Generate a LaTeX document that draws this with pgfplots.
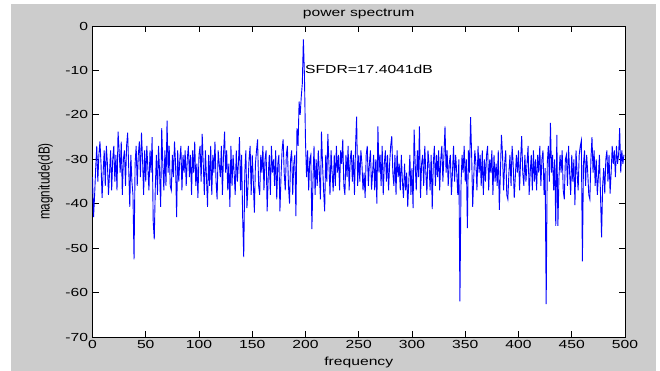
\documentclass[border=0pt]{standalone}
\usepackage{fontspec}
\setmainfont{Liberation Sans}[FakeStretch=1.34]
\newfontfamily\rotfont{Liberation Sans}[FakeStretch=0.746]
\usepackage{pgfplots}
\pgfplotsset{compat=1.18}
\definecolor{figgray}{RGB}{204,204,204}
\newcommand\tickfont{\fontsize{11.7bp}{14bp}\selectfont}
\newcommand\ylabfont{\rotfont\fontsize{15.7bp}{18bp}\selectfont}
\begin{document}
\begin{tikzpicture}
\fill[white] (-92.5bp,-34bp) rectangle (567.5bp,337bp);
\fill[figgray] (-81.5bp,-34bp) rectangle (563.5bp,333bp);
\begin{axis}[
  scale only axis, width=532.5bp, height=311bp,
  at={(0,0)}, anchor=south west,
  xmin=0, xmax=500, ymin=-70, ymax=0,
  xtick={0,50,...,500}, ytick={-70,-60,...,0},
  tick align=inside, major tick length=6bp,
  axis line style={black, line width=0.8bp},
  every tick/.style={black, line width=0.8bp},
  axis background/.style={fill=white},
  tick label style={font=\tickfont},
  yticklabel style={xshift=-1bp},
  /pgf/number format/assume math mode=true,
  title={power spectrum},
  title style={font=\tickfont, at={(axis description cs:0.5,1)}, anchor=base, yshift=3.5bp},
  xlabel={frequency},
  xlabel style={font=\tickfont, at={(axis description cs:0.5,0)}, anchor=base, yshift=-28bp},
  ylabel={magnitude(dB)},
  ylabel style={font=\ylabfont, at={(axis description cs:-0.0879,0.5)}, anchor=center},
]
\addplot[blue, line width=0.9bp] coordinates {
(0,-34) (1,-43) (2,-38) (3,-32) (4,-27) (5,-35) (6,-29) (7,-26) (8,-31) (9,-38.7)
(10,-33) (11,-28) (12,-36) (13,-27) (14,-31) (15,-38) (16,-33) (17,-28) (18,-37) (19,-30)
(20,-27) (21,-35) (22,-29) (23,-37) (24,-23.8) (25,-28) (26,-33) (27,-26) (28,-38) (29,-30)
(30,-28) (31,-36) (32,-27) (33,-24) (34,-32) (35,-40.7) (36,-29) (37,-35) (38,-38) (39,-52.5)
(40,-31) (41,-27) (42,-36) (43,-29) (44,-26) (45,-34) (46,-24) (47,-30) (48,-38) (49,-28)
(50,-35) (51,-27) (52,-32) (53,-37) (54,-28) (55,-33) (56,-25) (57,-44) (58,-48) (59,-36)
(60,-29) (61,-38) (62,-27) (63,-33) (64,-40.7) (65,-23) (66,-31) (67,-37) (68,-28) (69,-36)
(70,-21.3) (71,-33) (72,-27) (73,-36) (74,-37) (75,-29) (76,-34) (77,-26) (78,-31) (79,-43)
(80,-28) (81,-35) (82,-30) (83,-27) (84,-37) (85,-29) (86,-33) (87,-28) (88,-36) (89,-30)
(90,-27) (91,-34) (92,-29) (93,-38) (94,-28) (95,-33) (96,-26) (97,-36) (98,-31) (99,-38.7)
(100,-29) (101,-27) (102,-35) (103,-24.3) (104,-31) (105,-38) (106,-28) (107,-34) (108,-40.7) (109,-29)
(110,-36) (111,-27) (112,-38) (113,-29) (114,-33) (115,-26) (116,-35) (117,-39) (118,-28) (119,-31)
(120,-34) (121,-27) (122,-38) (123,-29) (124,-23.8) (125,-33) (126,-28) (127,-37) (128,-31) (129,-40.7)
(130,-27) (131,-36) (132,-29) (133,-33) (134,-38) (135,-28) (136,-35) (137,-31) (138,-25) (139,-37)
(140,-29) (141,-43) (142,-52) (143,-33) (144,-28) (145,-41) (146,-36) (147,-30) (148,-27) (149,-38)
(150,-29) (151,-35) (152,-42) (153,-31) (154,-28) (155,-25.5) (156,-36) (157,-38) (158,-29) (159,-33)
(160,-27) (161,-37) (162,-30) (163,-28) (164,-41.7) (165,-34) (166,-29) (167,-38) (168,-27) (169,-33)
(170,-30) (171,-36) (172,-28) (173,-39) (174,-31) (175,-29) (176,-41.7) (177,-34) (178,-28) (179,-25.5)
(180,-33) (181,-37) (182,-29) (183,-27) (184,-36) (185,-40) (186,-30) (187,-28) (188,-38) (189,-31)
(190,-29) (191,-42.8) (192,-23) (193,-27) (194,-17) (195,-20) (196,-16) (197,-13) (198,-3) (199,-11)
(200,-26) (201,-34) (202,-28) (203,-37) (204,-30) (205,-29) (206,-45.7) (207,-35) (208,-27) (209,-38)
(210,-30) (211,-36) (212,-28) (213,-33) (214,-39) (215,-23.8) (216,-31) (217,-37) (218,-41.7) (219,-29)
(220,-35) (221,-24.3) (222,-31) (223,-38) (224,-28) (225,-33) (226,-37.2) (227,-29) (228,-36) (229,-27)
(230,-33) (231,-29) (232,-37) (233,-28) (234,-31) (235,-25.5) (236,-36) (237,-38) (238,-29) (239,-34)
(240,-27) (241,-37) (242,-30) (243,-28) (244,-35) (245,-29) (246,-38) (247,-27) (248,-20.4) (249,-36)
(250,-29) (251,-35) (252,-28) (253,-31) (254,-37) (255,-33) (256,-38.7) (257,-29) (258,-27) (259,-36)
(260,-31) (261,-28) (262,-36.8) (263,-33) (264,-29) (265,-37) (266,-30) (267,-40) (268,-22.6) (269,-33)
(270,-29) (271,-36) (272,-27) (273,-38) (274,-31) (275,-28) (276,-35) (277,-29) (278,-37) (279,-31)
(280,-27) (281,-24.8) (282,-33) (283,-36) (284,-29) (285,-38) (286,-28) (287,-34) (288,-31) (289,-37)
(290,-29) (291,-35) (292,-38.7) (293,-31) (294,-37) (295,-33) (296,-40.7) (297,-35) (298,-29) (299,-38)
(300,-32) (301,-41) (302,-23.3) (303,-31) (304,-37) (305,-28) (306,-34) (307,-22.6) (308,-38.7) (309,-31)
(310,-29) (311,-36) (312,-27) (313,-33) (314,-38) (315,-28) (316,-31) (317,-37) (318,-29) (319,-41.2)
(320,-31) (321,-27) (322,-36) (323,-29) (324,-34) (325,-28) (326,-37) (327,-30) (328,-27) (329,-35)
(330,-29) (331,-22.6) (332,-33) (333,-28) (334,-36) (335,-31) (336,-29) (337,-38) (338,-33) (339,-27)
(340,-35) (341,-29) (342,-33) (343,-38) (344,-30) (345,-62) (346,-36) (347,-29) (348,-33) (349,-27)
(350,-35) (351,-30) (352,-45.5) (353,-28) (354,-33) (355,-20.5) (356,-29) (357,-40.7) (358,-34) (359,-28)
(360,-31) (361,-37) (362,-27) (363,-33) (364,-29) (365,-36) (366,-28) (367,-38) (368,-30) (369,-35)
(370,-29) (371,-27) (372,-37) (373,-30) (374,-33) (375,-28) (376,-38) (377,-29) (378,-35) (379,-31)
(380,-36) (381,-28) (382,-41.4) (383,-33) (384,-24.5) (385,-29) (386,-37) (387,-31) (388,-28) (389,-38)
(390,-39) (391,-33) (392,-29) (393,-36) (394,-27) (395,-31) (396,-38.7) (397,-34) (398,-29) (399,-33)
(400,-28) (401,-37) (402,-30) (403,-24.8) (404,-33) (405,-36) (406,-29) (407,-35) (408,-31) (409,-27)
(410,-38) (411,-33) (412,-29) (413,-37) (414,-28) (415,-35) (416,-30) (417,-37) (418,-29) (419,-33)
(420,-27) (421,-36) (422,-30) (423,-28) (424,-38) (425,-32) (426,-62.6) (427,-31) (428,-27) (429,-35)
(430,-21.8) (431,-33) (432,-29) (433,-37) (434,-30) (435,-45) (436,-24.5) (437,-45) (438,-34) (439,-29)
(440,-33) (441,-28) (442,-37) (443,-39) (444,-30) (445,-29) (446,-36) (447,-27) (448,-33) (449,-38)
(450,-29) (451,-35) (452,-30) (453,-40.3) (454,-28) (455,-33) (456,-37) (457,-29) (458,-27) (459,-25.8)
(460,-53) (461,-31) (462,-28) (463,-36) (464,-29) (465,-33) (466,-38) (467,-39) (468,-30) (469,-25)
(470,-33) (471,-28) (472,-36) (473,-30) (474,-38) (475,-34) (476,-29) (477,-38) (478,-47.6) (479,-36)
(480,-32) (481,-37.7) (482,-30) (483,-28) (484,-35) (485,-29) (486,-37.7) (487,-33) (488,-27) (489,-31)
(490,-28) (491,-34) (492,-27) (493,-31) (494,-29) (495,-23) (496,-33) (497,-28) (498,-31) (499,-29)
};
\node[anchor=west, inner sep=0pt, font=\tickfont] at (axis cs:199.5,-9.75) {SFDR=17.4041dB};
\end{axis}
\pgfresetboundingbox
\path[use as bounding box] (-92.5bp,-34bp) rectangle (567.5bp,337bp);
\end{tikzpicture}
\end{document}
